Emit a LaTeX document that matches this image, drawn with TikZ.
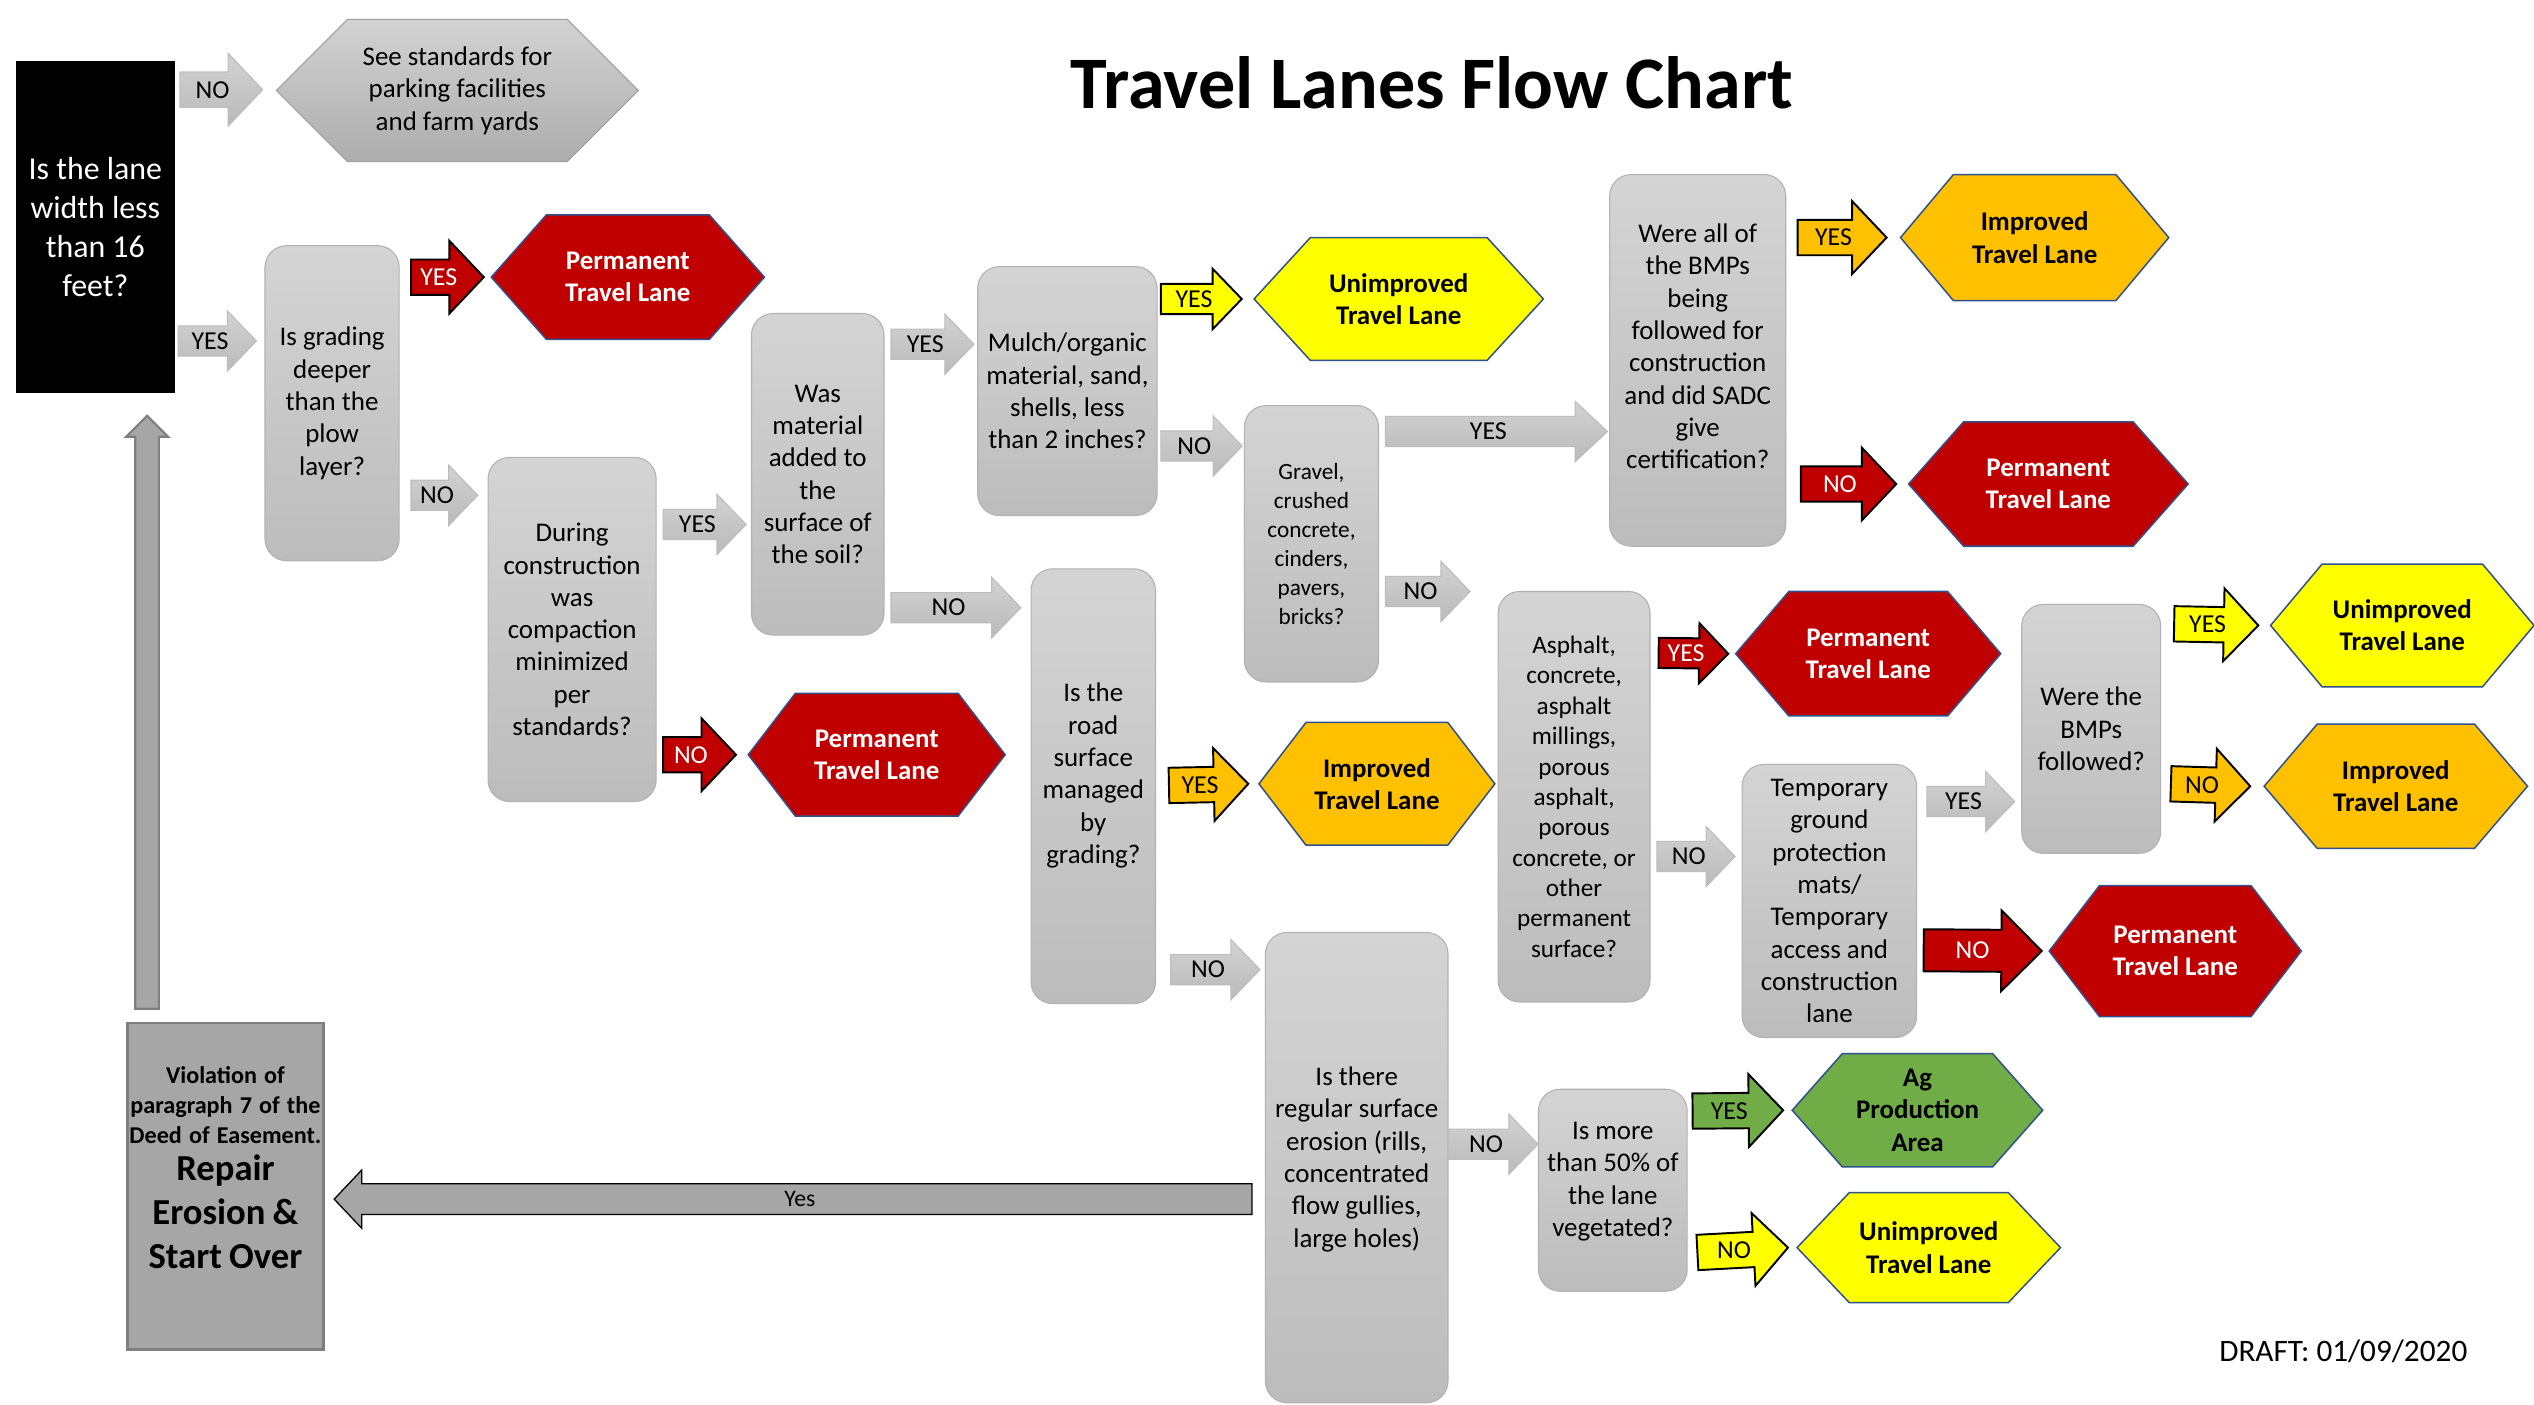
\documentclass[tikz,border=0pt]{standalone}
\usepackage{fontspec}
\setmainfont{Carlito}
\usetikzlibrary{calc}
\usetikzlibrary{shapes.symbols}

\definecolor{qtop}{HTML}{D4D4D4}
\definecolor{qbot}{HTML}{BCBCBC}
\definecolor{qline}{HTML}{B2B2B2}
\definecolor{gatop}{HTML}{D2D2D2}
\definecolor{gabot}{HTML}{BABABA}
\definecolor{galine}{HTML}{BDBDBD}
\definecolor{permred}{HTML}{C00000}
\definecolor{unimpyellow}{HTML}{FFFF00}
\definecolor{impamber}{HTML}{FFC000}
\definecolor{aggreen}{HTML}{70AD47}
\definecolor{hexline}{HTML}{2F528F}
\definecolor{repairgray}{HTML}{A6A6A6}
\definecolor{repairline}{HTML}{7F7F7F}

\newcommand{\qfont}{\fontsize{12.5}{15}\selectfont}
\newcommand{\hexfont}{\bfseries\fontsize{12.5}{15}\selectfont}
\newcommand{\lblfont}{\fontsize{12}{14}\selectfont}
\newcommand{\startfont}{\fontsize{14.8}{18}\selectfont}
\newcommand{\titlefont}{\bfseries\fontsize{34.4}{40}\selectfont}
\newcommand{\draftfont}{\fontsize{14.5}{17}\selectfont}
% extra depth on a last line lifts the text in its box
\newcommand{\textdrop}[1]{\rule[-#1]{0pt}{0pt}}

\tikzset{
  box size/.style 2 args={minimum width=#1*0.75pt, minimum height=#2*0.75pt},
  qbox/.style={rectangle, rounded corners=10pt, draw=qline, line width=0.5pt,
    top color=qtop, bottom color=qbot, align=center, font=\qfont, inner sep=1pt},
  startbox/.style={rectangle, fill=black, text=white, align=center, font=\startfont, inner sep=1pt},
  repairbox/.style={rectangle, fill=repairgray, draw=repairline, line width=1.2pt,
    align=center, font=\bfseries, inner sep=0pt},
  hexnode/.style={signal, signal to=east and west, signal from=nowhere, signal pointer angle=100,
    draw=hexline, line width=0.7pt, align=center, font=\hexfont, inner sep=1pt},
  redhex/.style={hexnode, fill=permred, text=white},
  yellowhex/.style={hexnode, fill=unimpyellow},
  amberhex/.style={hexnode, fill=impamber},
  greenhex/.style={hexnode, fill=aggreen},
  greyhex/.style={hexnode, draw=gray!75, line width=0.5pt, top color=gatop, bottom color=qbot!92!black, font=\qfont},
  % block arrows
  ba shaft/.store in=\baShaft, ba head/.store in=\baHead, ba len/.store in=\baLen,
  ba shaft=7pt, ba head=14pt, ba len=13.5pt,
  bigarrow/.style={ba shaft=8.2pt, ba head=16.9pt, ba len=16pt},
  gray arrow/.style={draw=galine, line width=0.5pt, top color=gatop, bottom color=gabot},
  gray label/.style={text=black, font=\lblfont, inner sep=0pt},
  red arrow/.style={draw=black, line width=0.9pt, fill=permred},
  red label/.style={text=white, font=\lblfont, inner sep=0pt},
  yellow arrow/.style={draw=black, line width=0.9pt, fill=unimpyellow},
  yellow label/.style={text=black, font=\lblfont, inner sep=0pt},
  amber arrow/.style={draw=black, line width=0.9pt, fill=impamber},
  amber label/.style={text=black, font=\lblfont, inner sep=0pt},
  green arrow/.style={draw=black, line width=0.9pt, fill=aggreen},
  green label/.style={text=black, font=\lblfont, inner sep=0pt},
  dark arrow/.style={draw=black, line width=0.6pt, fill=repairgray},
  dark label/.style={text=black, font=\fontsize{11}{13}\selectfont, inner sep=0pt},
  up arrow/.style={draw=repairline, line width=1pt, fill=repairgray},
  up label/.style={inner sep=0pt},
}

% [sizes]{kind}{name}{tail}{tip}{label}
\newcommand{\flowarrow}[6][]{%
  \begingroup
  \tikzset{#1}%
  \coordinate (#3-a) at #4;
  \coordinate (#3-b) at #5;
  \coordinate (#3-c) at ($(#3-b)!\baLen!(#3-a)$);
  \coordinate (#3-m) at ($(#3-b)!0.5!(#3-c)$);
  \draw[#2 arrow] ($(#3-a)!\baShaft!90:(#3-b)$) -- ($(#3-c)!\baShaft!-90:(#3-a)$)
    -- ($(#3-c)!\baHead!-90:(#3-a)$) -- (#3-b) -- ($(#3-c)!\baHead!90:(#3-a)$)
    -- ($(#3-c)!\baShaft!90:(#3-a)$) -- ($(#3-a)!\baShaft!-90:(#3-b)$) -- cycle;
  \node[#2 label] (#3) at ($(#3-a)!0.5!(#3-m)$) {#6};
  \endgroup}

\begin{document}
\begin{tikzpicture}[x=0.75pt,y=0.75pt,yscale=-1,xscale=1]
\useasboundingbox[fill=white] (0,0) rectangle (1568,869);

% Text Node
\node[font=\titlefont] (title) at (886,51) {Travel Lanes Flow Chart};
\node[font=\draftfont] (draft) at (1450,836) {DRAFT: 01/09/2020};

%Shape: questions
\node[startbox, box size={98}{205}] (q0) at (59,140.5) {Is the lane\\width less\\than 16\\feet?};
\node[qbox, box size={83}{195}] (q1) at (205.5,249.5) {Is grading\\deeper\\than the\\plow\\layer?};
\node[qbox, box size={104}{213}] (q2) at (354,389.5) {During\\construction\\was\\compaction\\minimized\\per\\standards?};
\node[qbox, box size={82}{199}] (q3) at (506,293.5) {Was\\material\\added to\\the\\surface of\\the soil?};
\node[qbox, box size={111}{154}] (q4) at (660.5,242) {Mulch/organic\\material, sand,\\shells, less\\than 2 inches?};
\node[qbox, box size={77}{269}] (q5) at (676.5,486.5) {Is the\\road\\surface\\managed\\by\\grading?\textdrop{12pt}};
\node[qbox, box size={83}{171}, font=\fontsize{10.8}{13.5}\selectfont] (q6) at (811.5,336.5) {Gravel,\\crushed\\concrete,\\cinders,\\pavers,\\bricks?};
\node[qbox, box size={109}{230}] (q7) at (1050.5,223) {Were all of\\the BMPs\\being\\followed for\\construction\\and did SADC\\give\\certification?\textdrop{13pt}};
\node[qbox, box size={94}{254}, font=\fontsize{11.7}{14.1}\selectfont] (q8) at (974,493) {Asphalt,\\concrete,\\asphalt\\millings,\\porous\\asphalt,\\porous\\concrete, or\\other\\permanent\\surface?};
\node[qbox, box size={108}{169}] (q9) at (1132,557.5) {Temporary\\ground\\protection\\mats/\\Temporary\\access and\\construction\\lane};
\node[qbox, box size={86}{154}] (q10) at (1294,451) {Were the\\BMPs\\followed?};
\node[qbox, box size={113}{291}] (q11) at (839.5,722.5) {Is there\\regular surface\\erosion (rills,\\concentrated\\flow gullies,\\large holes)\textdrop{10pt}};
\node[qbox, box size={92}{125}] (q12) at (998,736.5) {Is more\\than 50\% of\\the lane\\vegetated?\textdrop{10pt}};

%Shape: outcomes
\node[greyhex, box size={224}{88}, signal pointer angle=90] (g0) at (283,56) {See standards for\\parking facilities\\and farm yards};
\node[redhex, box size={169}{77}, signal pointer angle=97] (p1) at (388.5,171.5) {Permanent\\Travel Lane};
\node[redhex, box size={159}{76}, signal pointer angle=105] (p5) at (542.5,467) {Permanent\\Travel Lane};
\node[yellowhex, box size={179}{76}, signal pointer angle=95] (u1) at (865.5,185) {Unimproved\\Travel Lane};
\node[amberhex, box size={166}{78}] (i1) at (1259,147) {Improved\\Travel Lane};
\node[redhex, box size={173}{77}, signal pointer angle=97] (p2) at (1267.5,299.5) {Permanent\\Travel Lane};
\node[redhex, box size={164}{77}, signal pointer angle=99] (p3) at (1156,404.5) {Permanent\\Travel Lane};
\node[redhex, box size={156}{81}, signal pointer angle=105] (p4) at (1346,588.5) {Permanent\\Travel Lane};
\node[yellowhex, box size={163}{76}] (u2) at (1486.5,387) {Unimproved\\Travel Lane};
\node[amberhex, box size={163}{77}, signal pointer angle=99] (i2) at (1482.5,486.5) {Improved\\Travel Lane};
\node[amberhex, box size={146}{76}, signal pointer angle=105] (i3) at (852,485) {Improved\\Travel Lane};
\node[greenhex, box size={155}{70}, signal pointer angle=97] (ag) at (1186.5,687) {Ag\\Production\\Area};
\node[yellowhex, box size={163}{68}, signal pointer angle=93] (u3) at (1193.5,772) {Unimproved\\Travel Lane};

\node[repairbox, box size={121}{202}, text width=90pt] (r) at (139.5,734)
  {{\fontsize{11.2}{13.8}\selectfont Violation of\\paragraph 7 of the\\Deed of Easement.\par}
   \vspace{-3.5pt}{\fontsize{17}{20.6}\selectfont Repair\\Erosion \&\\Start Over\textdrop{17pt}\par}};

% Connection
\flowarrow[bigarrow]{gray}{a1}{($(q0.east |- 0,55.5)+(3,0)$)}{($(g0.west |- 0,55.5)+(-8,0)$)}{NO}
\flowarrow{gray}{a2}{($(q0.east |- 0,211)+(2,0)$)}{($(q1.west |- 0,211)+(-5,0)$)}{YES}
\flowarrow[bigarrow]{red}{a3}{($(q1.east |- 0,171.5)+(7,0)$)}{($(p1.west)+(-4,0)$)}{YES}
\flowarrow{gray}{a4}{($(q1.east |- 0,306.5)+(7,0)$)}{($(q2.west |- 0,306.5)+(-6,0)$)}{NO}
\flowarrow{gray}{a5}{($(q2.east |- 0,324.5)+(4,0)$)}{($(q3.west |- 0,324.5)+(-3,0)$)}{YES}
\flowarrow[bigarrow]{red}{a6}{($(q2.east |- 0,467)+(4,0)$)}{($(p5.west)+(-7,0)$)}{NO}
\flowarrow{gray}{a7}{($(q3.east |- 0,213)+(4,0)$)}{($(q4.west |- 0,213)+(-2,0)$)}{YES}
\flowarrow{gray}{a8}{($(q3.east |- 0,376)+(4,0)$)}{($(q5.west |- 0,376)+(-6,0)$)}{NO}
\flowarrow{yellow}{a9}{($(q4.east |- 0,185)+(2,0)$)}{($(u1.west)+(-7,0)$)}{YES}
\flowarrow{gray}{a10}{($(q4.east |- 0,276)+(2,0)$)}{($(q6.west |- 0,276)+(-1,0)$)}{NO}
\flowarrow[ba len=15pt]{gray}{a11}{($(q6.east |- 0,267)+(4,0)$)}{($(q7.west |- 0,267)+(-1,0)$)}{YES}
\flowarrow{gray}{a12}{($(q6.east |- 0,366)+(4,0)$)}{($(q8.west |- 0,366)+(-17,0)$)}{NO}
\flowarrow[bigarrow]{amber}{a13}{($(q7.east |- 0,147)+(7,0)$)}{($(i1.west)+(-8,0)$)}{YES}
\flowarrow[bigarrow]{red}{a14}{($(q7.east |- 0,299.5)+(9,0)$)}{($(p2.west)+(-7,0)$)}{NO}
\flowarrow[bigarrow]{amber}{a15}{($(q5.east |- 0,486)+(8,0)$)}{($(i3.west)+(-6,0)$)}{YES}
\flowarrow{gray}{a16}{($(q5.east |- 0,600)+(9,0)$)}{($(q11.west |- 0,600)+(-3,0)$)}{NO}
\flowarrow{red}{a17}{($(q8.east |- 0,404)+(5,0)$)}{($(p3.west)+(-4,0)$)}{YES}
\flowarrow{gray}{a18}{($(q8.east |- 0,530)+(4,0)$)}{($(q9.west |- 0,530)+(-4,0)$)}{NO}
\flowarrow{gray}{a19}{($(q9.east |- 0,496)+(6,0)$)}{($(q10.west |- 0,496)+(-4,0)$)}{YES}
\flowarrow[ba shaft=9.75pt, ba head=18.75pt, ba len=18.75pt]{red}{a20}{($(q9.east |- 0,588)+(4,0)$)}{($(p4.west)+(-4,0)$)}{NO}
\flowarrow[bigarrow]{yellow}{a21}{($(q10.east |- 0,386)+(8,0)$)}{($(u2.west)+(-7,0)$)}{YES}
\flowarrow[bigarrow]{amber}{a22}{($(q10.east |- 0,485)+(6,0)$)}{($(i2.west)+(-8,0)$)}{NO}
\flowarrow{gray}{a23}{(q11.east |- 0,708)}{(q12.west |- 0,708)}{NO}
\flowarrow[bigarrow]{green}{a24}{($(q12.east |- 0,687.5)+(3,0)$)}{($(ag.west)+(-5,0)$)}{YES}
\flowarrow[bigarrow]{yellow}{a25}{($(q12.east |- 0,775)+(6,0)$)}{($(u3.west)+(-5,0)$)}{NO}
\flowarrow[ba shaft=7.1pt, ba head=13.5pt, ba len=12.75pt]{dark}{a26}{($(q11.west |- 0,742)+(-8,0)$)}{($(r.east |- 0,742)+(6,0)$)}{Yes}
\flowarrow[ba shaft=5.5pt, ba head=9.75pt, ba len=9.75pt]{up}{a27}{($(r.north -| 91,0)+(0,-8)$)}{($(q0.south -| 91,0)+(0,14)$)}{}

\end{tikzpicture}
\end{document}
